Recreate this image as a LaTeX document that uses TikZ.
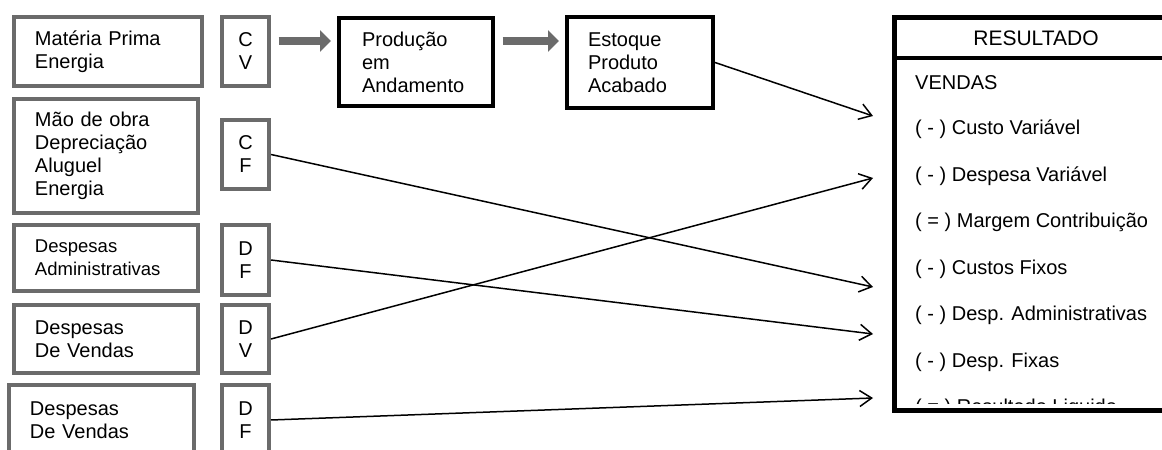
\documentclass[tikz,border=0pt]{standalone}
\usepackage{fontspec}
\setmainfont{Liberation Sans}
\usetikzlibrary{arrows.meta}

\definecolor{boxgray}{gray}{0.42}

\tikzset{
	lbox/.style={draw=boxgray, line width=4bp, inner xsep=21bp, inner ysep=0pt, align=left},
	sbox/.style={draw=boxgray, line width=4bp, minimum width=47bp, inner sep=0pt, align=center},
	pbox/.style={draw, line width=4bp, inner ysep=0pt, align=left},
	fat/.style={line width=8bp, draw=boxgray, -{Triangle[length=11bp,width=21bp]}, shorten <=7.5bp, shorten >=6bp},
	link/.style={line width=1.5bp, -{Straight Barb[length=12bp,width=16bp]}},
	item/.style={anchor=west, inner sep=0pt}
}

\begin{document}
\begin{tikzpicture}[x=1bp, y=-1bp, font=\fontsize{20bp}{23bp}\selectfont]
	
	\useasboundingbox (0,0) rectangle (1162,450);
	\clip (0,0) rectangle (1162,450);
	
	% left column
	\node[lbox, text width=146bp, minimum height=69bp] (mp) at (108,51.5) {Matéria Prima\\Energia};
	\node[lbox, text width=142bp, minimum height=114bp] (mo) at (106,156) {Mão de obra\\Depreciação\\Aluguel\\Energia};
	\node[lbox, text width=142bp, minimum height=66bp, font=\fontsize{18.5bp}{23bp}\selectfont] (da) at (106,258) {Despesas\\Administrativas};
	\node[lbox, text width=142bp, minimum height=68bp] (dvd) at (106,339) {Despesas\\De Vendas};
	\node[lbox, text width=143bp, minimum height=70bp] (dvb) at (101.5,420) {Despesas\\De Vendas};
	
	\node[sbox, minimum height=69bp] (cv) at (245.5,51.5) {C\\V};
	\node[sbox, minimum height=69bp] (cf) at (245.5,154.5) {C\\F};
	\node[sbox, minimum height=70bp] (df) at (245.5,260) {D\\F};
	\node[sbox, minimum height=68bp] (dv) at (245.5,339) {D\\V};
	\node[sbox, minimum height=70bp] (dfb) at (245.5,420) {D\\F};
	
	% production flow
	\node[pbox, inner xsep=23bp, text width=108bp, minimum height=88bp] (prod) at (416,62) {Produção\\em\\Andamento};
	\node[pbox, inner xsep=21bp, text width=104bp, minimum height=91bp] (est) at (640,62.5) {Estoque\\Produto\\Acabado};
	
	\draw[fat] (cv.east |- 0,41) -- (prod.west |- 0,41);
	\draw[fat] (prod.east |- 0,41) -- (est.west |- 0,41);
	
	% result statement
	\node[draw, line width=5bp, outer sep=0pt, inner sep=0pt, minimum width=283bp, minimum height=393bp] (res) at (1036,214) {};
	\draw[line width=4bp] (res.west |- 0,58) -- (res.east |- 0,58);
	\node[font=\fontsize{21bp}{24bp}\selectfont] (tit) at (1036,38) {RESULTADO};
	
	\begin{scope}
		\clip (897,62) rectangle (1175,404);
		\foreach \t [count=\i] in {VENDAS, {( - ) Custo Variável}, {( - ) Despesa Variável}, {( = ) Margem Contribuição}, {( - ) Custos Fixos}, {( - ) Desp. Administrativas}, {( - ) Desp. Fixas}, {( = ) Resultado Liquido}}
			\node[item] (it\i) at (915,{83+46.5*(\i-1)}) {\t};
	\end{scope}
	
	\coordinate (r1) at (873,116);
	\coordinate (r2) at (873,178);
	\coordinate (r3) at (873,287);
	\coordinate (r4) at (873,334);
	\coordinate (r5) at (873,398);
	
	\draw[link] (est.east) -- (r1);
	\draw[link] (dv.east) -- (r2);
	\draw[link] (cf.east) -- (r3);
	\draw[link] (df.east) -- (r4);
	\draw[link] (dfb.east) -- (r5);
	
\end{tikzpicture}
\end{document}
